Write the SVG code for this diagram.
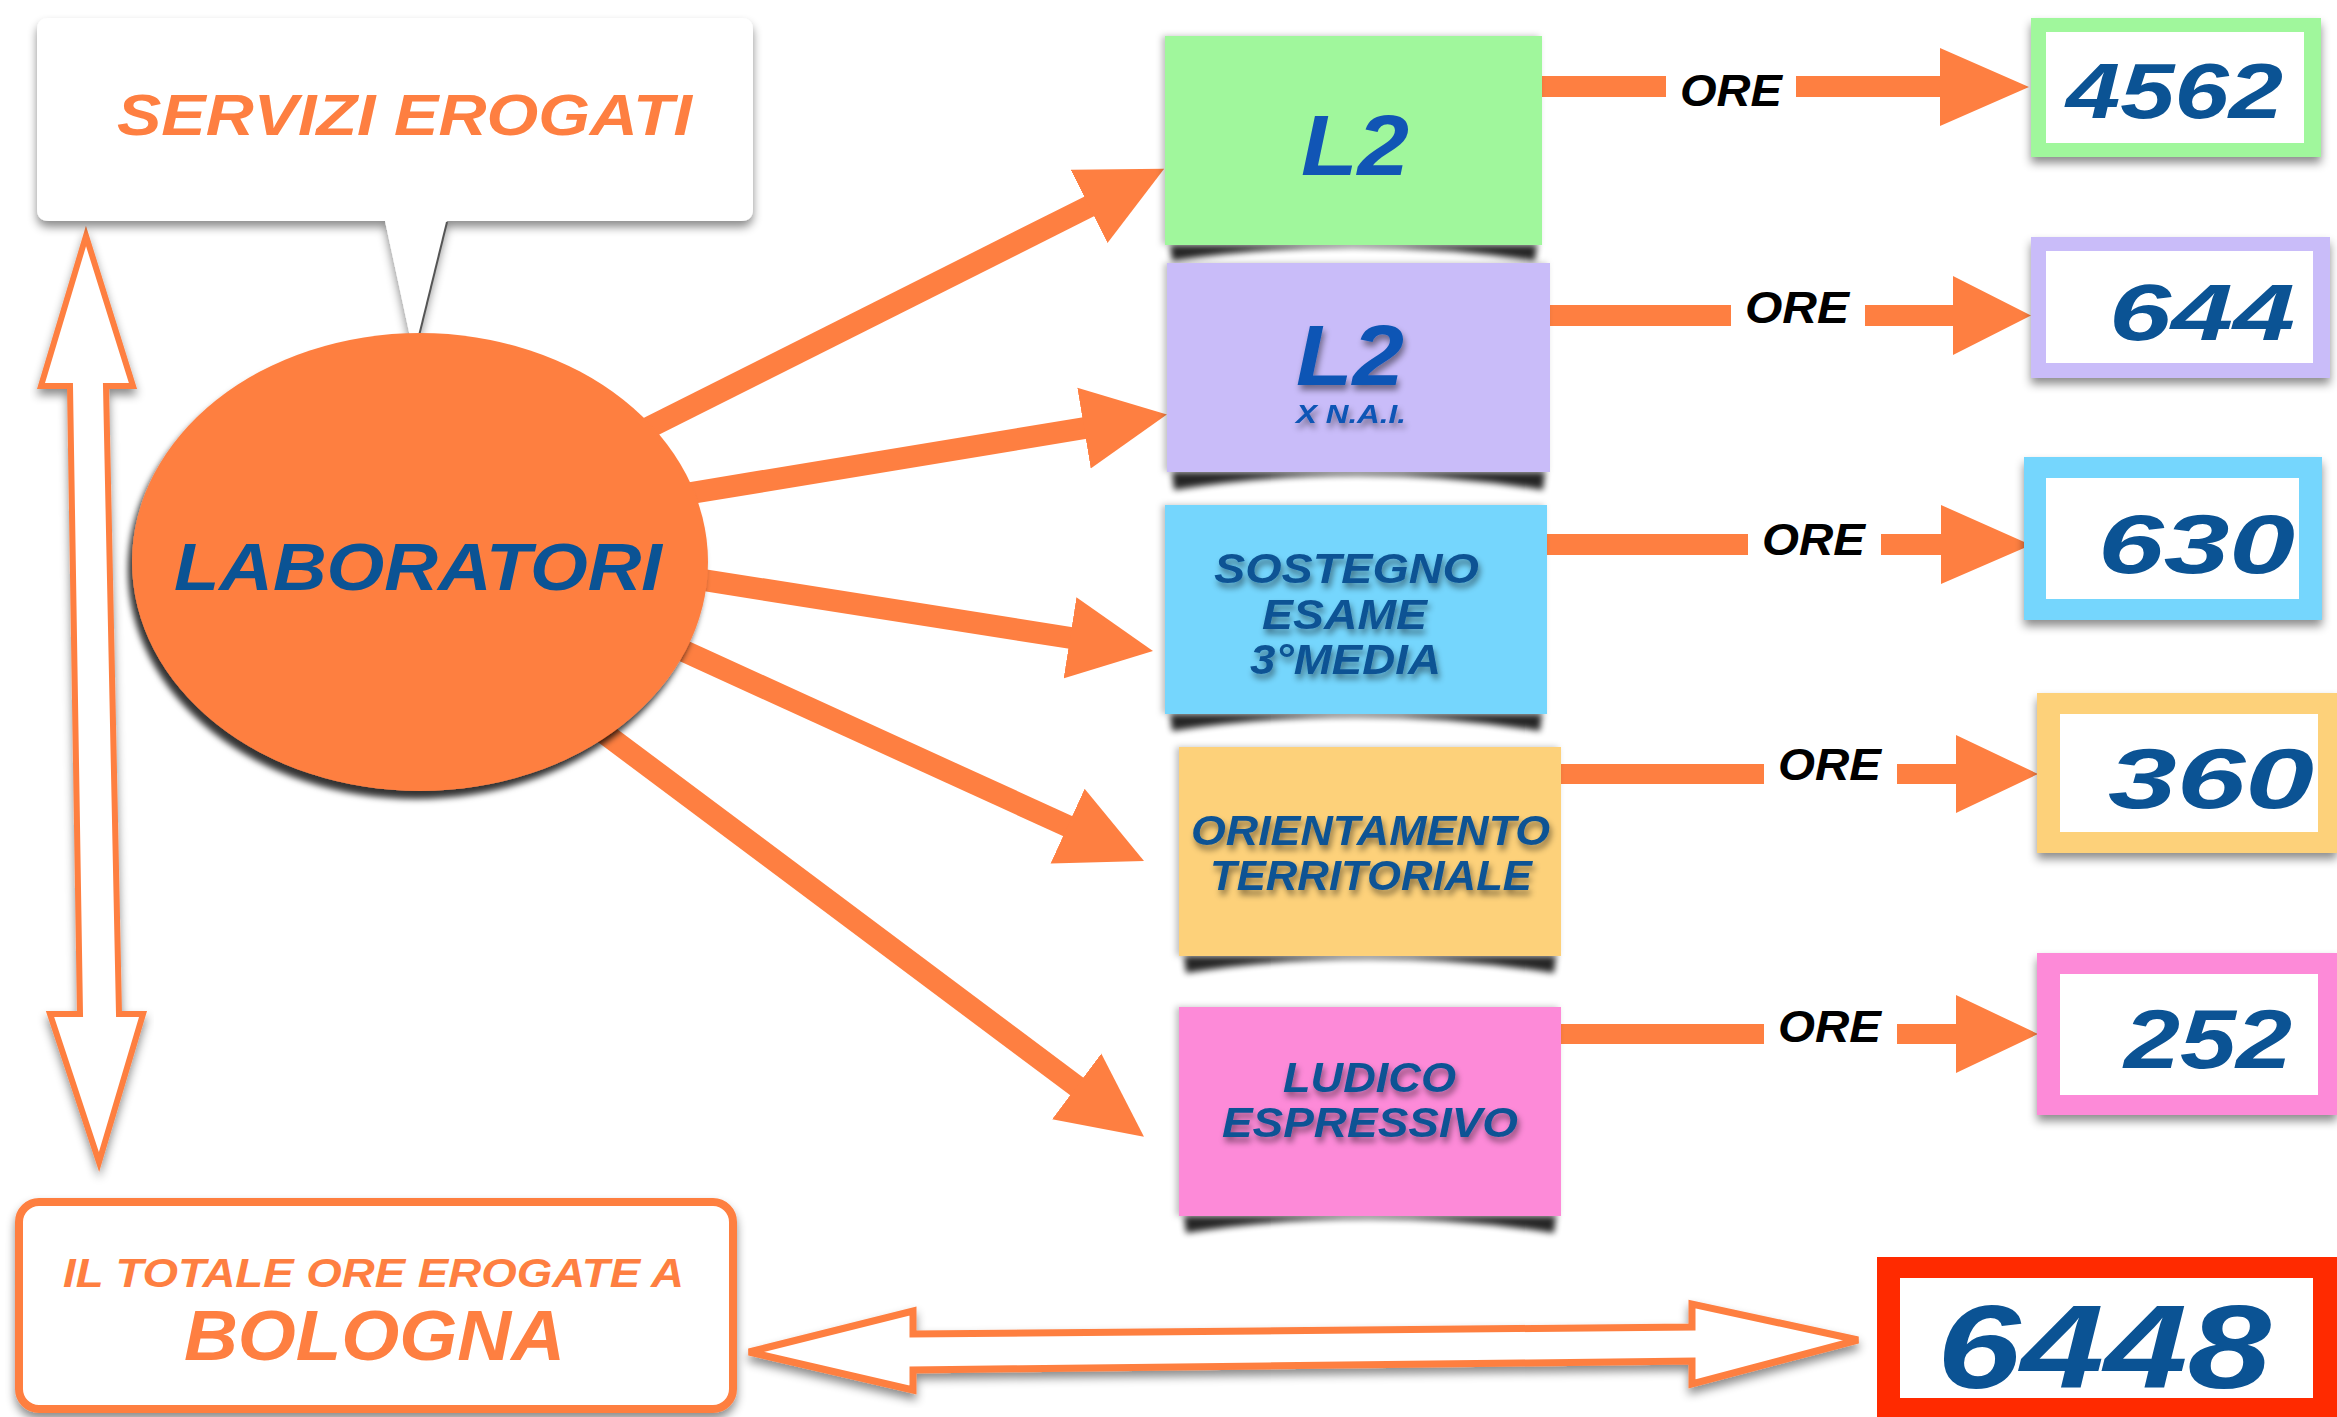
<svg xmlns="http://www.w3.org/2000/svg" width="2337" height="1417" viewBox="0 0 2337 1417">
<style>
.t{font-family:"Liberation Sans","DejaVu Sans",sans-serif;font-weight:bold;font-style:italic}
.org{fill:#fe7f41}
.dk{fill:#0b5394}
.l2{fill:#1155b5}
.blk{fill:#000}
.conn{stroke:#fe7f41;stroke-width:22;fill:none}
.hollow{fill:#fff;stroke:#fe7f41;stroke-linejoin:miter}
.curl{fill:#000;opacity:.85;filter:url(#blur)}
</style>
<defs>
<filter id="soft" x="-10%" y="-10%" width="120%" height="130%"><feDropShadow dx="0" dy="6" stdDeviation="5" flood-color="#000" flood-opacity=".45"/></filter>
<filter id="side" x="-5%" y="-5%" width="110%" height="110%"><feDropShadow dx="-3" dy="0" stdDeviation="3" flood-color="#000" flood-opacity=".25"/></filter>
<filter id="ts" x="-10%" y="-30%" width="120%" height="170%"><feDropShadow dx="2" dy="5" stdDeviation="3" flood-color="#000" flood-opacity=".45"/></filter>
<filter id="es" x="-10%" y="-10%" width="120%" height="125%"><feDropShadow dx="-4" dy="8" stdDeviation="3" flood-color="#000" flood-opacity=".8"/></filter>
<filter id="blur" x="-10%" y="-100%" width="120%" height="300%"><feGaussianBlur stdDeviation="3"/></filter>
<marker id="fanHead" markerUnits="userSpaceOnUse" markerWidth="84" markerHeight="84" viewBox="0 0 84 84" refX="1" refY="42" orient="auto"><path d="M0,1 L84,42 L0,83 Z" fill="#fe7f41"/></marker>
</defs>
<rect width="2337" height="1417" fill="#fff"/>

<g id="connectors">
  <line class="conn" x1="628" y1="438" x2="1090" y2="206" marker-end="url(#fanHead)"/>
  <line class="conn" x1="667" y1="497" x2="1085" y2="428" marker-end="url(#fanHead)"/>
  <line class="conn" x1="678" y1="576" x2="1071" y2="638" marker-end="url(#fanHead)"/>
  <line class="conn" x1="662" y1="641" x2="1068.5" y2="826.5" marker-end="url(#fanHead)"/>
  <line class="conn" x1="584" y1="718" x2="1077.5" y2="1087" marker-end="url(#fanHead)"/>
  <g class="org">
    <path d="M1542,76 H1666 V97 H1542 Z M1796,76 H1940 V48 L2029,87 L1940,126 V97 H1796 Z"/>
    <path d="M1550,305 H1731 V326 H1550 Z M1865,305 H1953 V276 L2031,315.5 L1953,355 V326 H1865 Z"/>
    <path d="M1547,534 H1748 V555 H1547 Z M1881,534 H1941 V505 L2031,545 L1941,584 V555 H1881 Z"/>
    <path d="M1561,764 H1764 V784 H1561 Z M1897,764 H1956 V735 L2038,774 L1956,813 V784 H1897 Z"/>
    <path d="M1561,1024 H1764 V1044 H1561 Z M1897,1024 H1956 V995 L2038,1034 L1956,1073 V1044 H1897 Z"/>
  </g>
  <g class="blk">
    <text class="t" x="1680" y="106" font-size="44" textLength="102" lengthAdjust="spacingAndGlyphs">ORE</text>
    <text class="t" x="1745" y="323" font-size="44" textLength="104" lengthAdjust="spacingAndGlyphs">ORE</text>
    <text class="t" x="1762" y="555" font-size="44" textLength="103" lengthAdjust="spacingAndGlyphs">ORE</text>
    <text class="t" x="1778" y="780" font-size="44" textLength="103" lengthAdjust="spacingAndGlyphs">ORE</text>
    <text class="t" x="1778" y="1042" font-size="44" textLength="103" lengthAdjust="spacingAndGlyphs">ORE</text>
  </g>
  <path class="hollow" stroke-width="6" filter="url(#soft)" d="M86,236 L133,386 L106,386 L119,1014 L143,1014 L99,1162 L50,1014 L80,1014 L70,386 L41,386 Z"/>
  <path class="hollow" stroke-width="7" filter="url(#soft)" d="M749,1352 L913,1311 L913,1334 L1692,1327 L1692,1304 L1858,1340 L1692,1384 L1692,1361 L913,1370 L913,1390 Z"/>
</g>

<g id="servizi-erogati">
  <path d="M49,18 H741 Q753,18 753,30 V209 Q753,221 741,221 H447 L414,355 L385,221 H49 Q37,221 37,209 V30 Q37,18 49,18 Z" fill="#fff" filter="url(#soft)"/>
  <line x1="447" y1="222" x2="415" y2="352" stroke="#555" stroke-width="2"/>
  <text class="t org" x="117" y="135" font-size="58" textLength="575" lengthAdjust="spacingAndGlyphs">SERVIZI EROGATI</text>
</g>

<g id="laboratori">
  <ellipse cx="420" cy="562" rx="288" ry="229" fill="#fe7f41" filter="url(#es)"/>
  <text class="t dk" x="174" y="590" font-size="66" textLength="488" lengthAdjust="spacingAndGlyphs">LABORATORI</text>
</g>

<g id="l2">
  <path class="curl" d="M1170,245 H1537 L1535,261 Q1353,233 1172,261 Z"/>
  <rect x="1165" y="36" width="377" height="209" fill="#a0f79c" filter="url(#side)"/>
  <text class="t l2" x="1301" y="175" font-size="86" textLength="108" lengthAdjust="spacingAndGlyphs">L2</text>
</g>

<g id="l2-nai">
  <path class="curl" d="M1172,472 H1545 L1543,490 Q1358,460 1174,490 Z"/>
  <rect x="1167" y="263" width="383" height="209" fill="#c9bcf9" filter="url(#side)"/>
  <g filter="url(#ts)">
    <text class="t l2" x="1296" y="385" font-size="86" textLength="108" lengthAdjust="spacingAndGlyphs">L2</text>
    <text class="t l2" x="1296" y="423" font-size="25" textLength="110" lengthAdjust="spacingAndGlyphs">X N.A.I.</text>
  </g>
</g>

<g id="sostegno">
  <path class="curl" d="M1170,714 H1542 L1540,731 Q1356,702 1172,731 Z"/>
  <rect x="1165" y="505" width="382" height="209" fill="#75d6fd" filter="url(#side)"/>
  <g class="dk" filter="url(#ts)">
    <text class="t" x="1214" y="583" font-size="42" textLength="265" lengthAdjust="spacingAndGlyphs">SOSTEGNO</text>
    <text class="t" x="1262" y="629" font-size="42" textLength="165" lengthAdjust="spacingAndGlyphs">ESAME</text>
    <text class="t" x="1250" y="674" font-size="42" textLength="191" lengthAdjust="spacingAndGlyphs">3°MEDIA</text>
  </g>
</g>

<g id="orientamento">
  <path class="curl" d="M1184,956 H1556 L1554,973 Q1370,944 1186,973 Z"/>
  <rect x="1179" y="747" width="382" height="209" fill="#fdd17a" filter="url(#side)"/>
  <g class="dk" filter="url(#ts)">
    <text class="t" x="1191" y="845" font-size="42" textLength="359" lengthAdjust="spacingAndGlyphs">ORIENTAMENTO</text>
    <text class="t" x="1210" y="890" font-size="42" textLength="322" lengthAdjust="spacingAndGlyphs">TERRITORIALE</text>
  </g>
</g>

<g id="ludico">
  <path class="curl" d="M1184,1216 H1556 L1554,1233 Q1370,1204 1186,1233 Z"/>
  <rect x="1179" y="1007" width="382" height="209" fill="#fd8ad8" filter="url(#side)"/>
  <g class="dk" filter="url(#ts)">
    <text class="t" x="1283" y="1092" font-size="42" textLength="173" lengthAdjust="spacingAndGlyphs">LUDICO</text>
    <text class="t" x="1222" y="1137" font-size="42" textLength="296" lengthAdjust="spacingAndGlyphs">ESPRESSIVO</text>
  </g>
</g>

<g id="ore-4562">
  <rect x="2031" y="18" width="290" height="139" fill="#a0f79c" filter="url(#soft)"/>
  <rect x="2046" y="32" width="258" height="111" fill="#fff"/>
  <text class="t dk" x="2066" y="118" font-size="77" textLength="217" lengthAdjust="spacingAndGlyphs">4562</text>
</g>
<g id="ore-644">
  <rect x="2031" y="237" width="299" height="141" fill="#c9bcf9" filter="url(#soft)"/>
  <rect x="2046" y="251" width="267" height="112" fill="#fff"/>
  <text class="t dk" x="2109" y="340" font-size="80" textLength="186" lengthAdjust="spacingAndGlyphs">644</text>
</g>
<g id="ore-630">
  <rect x="2024" y="457" width="298" height="163" fill="#75d6fd" filter="url(#soft)"/>
  <rect x="2046" y="478" width="253" height="121" fill="#fff"/>
  <text class="t dk" x="2098" y="573" font-size="83" textLength="197" lengthAdjust="spacingAndGlyphs">630</text>
</g>
<g id="ore-360">
  <rect x="2037" y="693" width="300" height="160" fill="#fdd17a" filter="url(#soft)"/>
  <rect x="2060" y="714" width="258" height="118" fill="#fff"/>
  <text class="t dk" x="2108" y="808" font-size="85" textLength="206" lengthAdjust="spacingAndGlyphs">360</text>
</g>
<g id="ore-252">
  <rect x="2037" y="953" width="300" height="162" fill="#fd8ad8" filter="url(#soft)"/>
  <rect x="2060" y="974" width="258" height="121" fill="#fff"/>
  <text class="t dk" x="2124" y="1068" font-size="83" textLength="168" lengthAdjust="spacingAndGlyphs">252</text>
</g>
<g id="totale-6448">
  <rect x="1877" y="1257" width="460" height="160" fill="#ff2a00"/>
  <rect x="1900" y="1278" width="413" height="120" fill="#fff"/>
  <text class="t dk" x="1937" y="1388" font-size="118" textLength="334" lengthAdjust="spacingAndGlyphs">6448</text>
</g>

<g id="totale-bologna">
  <rect x="19" y="1202" width="714" height="207" rx="20" fill="#fff" stroke="#fe7f41" stroke-width="8" filter="url(#soft)"/>
  <text class="t org" x="63" y="1287" font-size="40" textLength="621" lengthAdjust="spacingAndGlyphs">IL TOTALE ORE EROGATE A</text>
  <text class="t org" x="184" y="1360" font-size="70" textLength="381" lengthAdjust="spacingAndGlyphs">BOLOGNA</text>
</g>
</svg>
